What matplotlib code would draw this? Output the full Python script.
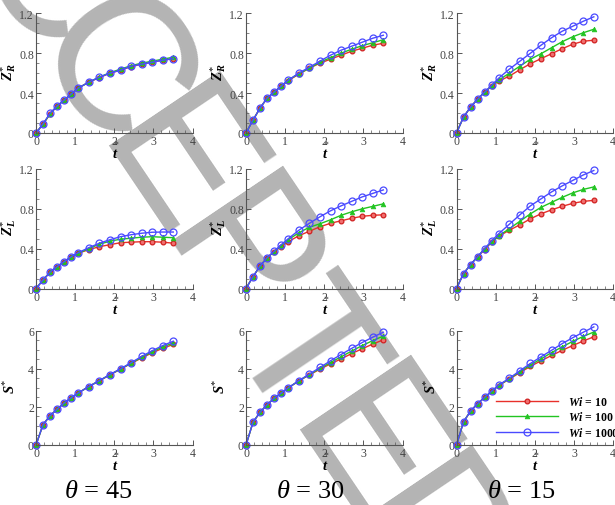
import matplotlib
matplotlib.use("Agg")
import math
import matplotlib.pyplot as plt
from matplotlib.ticker import AutoMinorLocator
from matplotlib.lines import Line2D

plt.rcParams['font.family'] = ['Liberation Serif', 'DejaVu Serif']
plt.rcParams['mathtext.fontset'] = 'custom'
plt.rcParams['mathtext.rm'] = 'Liberation Serif'
plt.rcParams['mathtext.it'] = 'Liberation Serif:italic'
plt.rcParams['mathtext.bf'] = 'Liberation Serif:bold:italic'

# ---------------- data ----------------
t = [0, 0.18, 0.36, 0.54, 0.72, 0.90, 1.08, 1.35, 1.62, 1.89, 2.16, 2.43, 2.70, 2.97, 3.24, 3.51]

series_labels = ['10', '100', '1000']
theta_labels = ['45', '30', '15']

# Z*_R
zr45_wi10   = [0, 0.09, 0.19, 0.27, 0.33, 0.39, 0.45, 0.51, 0.555, 0.60, 0.63, 0.665, 0.69, 0.71, 0.73, 0.745]
zr45_wi100  = [0, 0.09, 0.19, 0.27, 0.33, 0.39, 0.45, 0.51, 0.56, 0.605, 0.64, 0.675, 0.70, 0.72, 0.74, 0.76]
zr45_wi1000 = [0, 0.09, 0.20, 0.27, 0.33, 0.39, 0.45, 0.51, 0.56, 0.60, 0.63, 0.67, 0.69, 0.71, 0.73, 0.745]
zr30_wi10   = [0, 0.13, 0.25, 0.35, 0.41, 0.47, 0.525, 0.59, 0.65, 0.70, 0.74, 0.78, 0.82, 0.85, 0.88, 0.90]
zr30_wi100  = [0, 0.13, 0.25, 0.35, 0.41, 0.47, 0.53, 0.595, 0.65, 0.71, 0.755, 0.80, 0.84, 0.875, 0.905, 0.935]
zr30_wi1000 = [0, 0.13, 0.25, 0.35, 0.41, 0.47, 0.53, 0.60, 0.66, 0.72, 0.78, 0.83, 0.87, 0.91, 0.95, 0.98]
zr15_wi10   = [0, 0.16, 0.26, 0.34, 0.41, 0.47, 0.52, 0.57, 0.635, 0.695, 0.745, 0.795, 0.845, 0.89, 0.92, 0.93]
zr15_wi100  = [0, 0.16, 0.26, 0.34, 0.41, 0.475, 0.53, 0.60, 0.67, 0.74, 0.795, 0.855, 0.915, 0.965, 1.005, 1.04]
zr15_wi1000 = [0, 0.16, 0.26, 0.34, 0.41, 0.48, 0.55, 0.64, 0.72, 0.80, 0.88, 0.955, 1.02, 1.07, 1.12, 1.165]

# Z*_L
zl45_wi10   = [0, 0.085, 0.165, 0.22, 0.27, 0.315, 0.355, 0.39, 0.42, 0.44, 0.46, 0.465, 0.47, 0.47, 0.465, 0.455]
zl45_wi100  = [0, 0.085, 0.165, 0.22, 0.27, 0.32, 0.355, 0.40, 0.445, 0.475, 0.495, 0.505, 0.515, 0.52, 0.515, 0.51]
zl45_wi1000 = [0, 0.085, 0.165, 0.22, 0.27, 0.32, 0.36, 0.41, 0.455, 0.49, 0.52, 0.54, 0.555, 0.565, 0.567, 0.567]
zl30_wi10   = [0, 0.12, 0.225, 0.31, 0.37, 0.42, 0.47, 0.53, 0.575, 0.62, 0.655, 0.68, 0.705, 0.725, 0.735, 0.74]
zl30_wi100  = [0, 0.12, 0.225, 0.31, 0.37, 0.43, 0.49, 0.56, 0.615, 0.65, 0.69, 0.735, 0.77, 0.80, 0.825, 0.85]
zl30_wi1000 = [0, 0.12, 0.225, 0.31, 0.375, 0.44, 0.50, 0.585, 0.655, 0.72, 0.78, 0.83, 0.875, 0.92, 0.955, 0.99]
zl15_wi10   = [0, 0.15, 0.24, 0.32, 0.39, 0.465, 0.525, 0.585, 0.64, 0.70, 0.75, 0.79, 0.825, 0.855, 0.875, 0.885]
zl15_wi100  = [0, 0.15, 0.24, 0.32, 0.40, 0.47, 0.53, 0.60, 0.675, 0.75, 0.815, 0.865, 0.915, 0.96, 0.995, 1.02]
zl15_wi1000 = [0, 0.15, 0.24, 0.32, 0.40, 0.48, 0.55, 0.645, 0.74, 0.83, 0.90, 0.97, 1.03, 1.085, 1.14, 1.185]

# S*
s45_wi10   = [0, 1.07, 1.54, 1.88, 2.2, 2.48, 2.73, 3.07, 3.37, 3.68, 3.98, 4.28, 4.57, 4.84, 5.08, 5.28]
s45_wi100  = [0, 1.07, 1.54, 1.88, 2.2, 2.48, 2.73, 3.07, 3.38, 3.69, 3.99, 4.30, 4.60, 4.89, 5.15, 5.36]
s45_wi1000 = [0, 1.07, 1.54, 1.88, 2.2, 2.48, 2.73, 3.07, 3.38, 3.70, 4.00, 4.32, 4.65, 4.95, 5.22, 5.45]
s30_wi10   = [0, 1.2, 1.72, 2.12, 2.45, 2.72, 3.0, 3.36, 3.68, 3.98, 4.26, 4.52, 4.80, 5.05, 5.30, 5.52]
s30_wi100  = [0, 1.2, 1.72, 2.12, 2.45, 2.72, 3.0, 3.37, 3.70, 4.02, 4.33, 4.63, 4.93, 5.22, 5.48, 5.72]
s30_wi1000 = [0, 1.2, 1.72, 2.12, 2.45, 2.72, 3.0, 3.38, 3.72, 4.07, 4.42, 4.75, 5.07, 5.38, 5.66, 5.92]
s15_wi10   = [0, 1.22, 1.78, 2.17, 2.5, 2.81, 3.12, 3.46, 3.80, 4.13, 4.42, 4.70, 4.97, 5.22, 5.46, 5.68]
s15_wi100  = [0, 1.22, 1.78, 2.17, 2.5, 2.82, 3.13, 3.48, 3.85, 4.20, 4.52, 4.85, 5.15, 5.44, 5.70, 5.93]
s15_wi1000 = [0, 1.22, 1.78, 2.17, 2.5, 2.83, 3.15, 3.50, 3.90, 4.28, 4.63, 4.97, 5.32, 5.63, 5.92, 6.20]

x_ticks = [0, 1, 2, 3, 4]
x_ticklabels = ['0', '1', '2', '3', '4']
z_ticks = [0, 0.4, 0.8, 1.2]
z_ticklabels = ['0', '0.4', '0.8', '1.2']
s_ticks = [0, 2, 4, 6]
s_ticklabels = ['0', '2', '4', '6']

watermark = 'ACCEPTED'

rows = [
    ([zr45_wi10, zr45_wi100, zr45_wi1000], [zr30_wi10, zr30_wi100, zr30_wi1000], [zr15_wi10, zr15_wi100, zr15_wi1000]),
    ([zl45_wi10, zl45_wi100, zl45_wi1000], [zl30_wi10, zl30_wi100, zl30_wi1000], [zl15_wi10, zl15_wi100, zl15_wi1000]),
    ([s45_wi10, s45_wi100, s45_wi1000], [s30_wi10, s30_wi100, s30_wi1000], [s15_wi10, s15_wi100, s15_wi1000]),
]
row_ylabels = [r'$\mathbf{Z}^{*}_{\mathbf{R}}$', r'$\mathbf{Z}^{*}_{\mathbf{L}}$', r'$\mathbf{S}^{*}$']
row_ticks = [(z_ticks, z_ticklabels, 1.2), (z_ticks, z_ticklabels, 1.2), (s_ticks, s_ticklabels, 6)]

# ---------------- style ----------------
colors = ['#e8302a', '#22c422', '#4a4aff']
mstyles = [dict(marker='o', ms=3.4, mfc='#f07070', mec='#d02020', mew=0.9),
           dict(marker='^', ms=3.4, mfc='#22c422', mec='#22c422', mew=0.5),
           dict(marker='o', ms=5.0, mfc='none', mec='#4a4aff', mew=0.9)]

W, H = 615, 506
fig = plt.figure(figsize=(W / 100, H / 100), dpi=100)

# watermark: letters along a diagonal baseline (pixel geometry, y down)
ang = 56.0
ux, uy = math.cos(math.radians(ang)), math.sin(math.radians(ang))
step = 114.0
bx0, by0 = 128.0, 199.0   # baseline centre of the 4th letter
for i, ch in enumerate(watermark):
    k = i - 3
    px, py = bx0 + k * step * ux, by0 + k * step * uy
    fig.text(px / W, 1 - py / H, ch, rotation=-ang, rotation_mode='anchor',
             ha='center', va='baseline', fontsize=140, color='#b4b4b4',
             family='Liberation Sans', zorder=-5)

col_left = [36, 246, 456.5]
ax_w = 156.5
row_geom = [(14.3, 134), (170, 289.5), (331.7, 446)]

axes_grid = []
for r in range(3):
    top, bot = row_geom[r]
    ticks, tlabels, ymax = row_ticks[r]
    for c in range(3):
        ax = fig.add_axes([col_left[c] / W, 1 - bot / H, ax_w / W, (bot - top) / H])
        ax.set_facecolor('none')
        for k in range(3):
            ax.plot(t, rows[r][c][k], color=colors[k], lw=1.0, clip_on=False, **mstyles[k])
        ax.set_xlim(0, 4)
        ax.set_ylim(0, ymax)
        for s in ['top', 'right']:
            ax.spines[s].set_visible(False)
        for s in ['left', 'bottom']:
            ax.spines[s].set_color('#555555')
            ax.spines[s].set_linewidth(0.8)
        ax.set_xticks(x_ticks)
        ax.set_xticklabels(x_ticklabels)
        ax.set_yticks(ticks)
        ax.set_yticklabels(tlabels)
        ax.xaxis.set_minor_locator(AutoMinorLocator(5))
        ax.yaxis.set_minor_locator(AutoMinorLocator(4))
        ax.tick_params(which='both', direction='in', color='#555555', labelsize=8.5,
                       labelcolor='#444444', pad=1.5)
        ax.tick_params(which='major', length=3.5, width=0.7)
        ax.tick_params(which='minor', length=2, width=0.5)
        ax.set_xlabel('t', fontsize=10.5, fontweight='bold', style='italic', labelpad=0)
        ax.text(0.51, -0.085, '*', transform=ax.transAxes, ha='center', va='center',
                fontsize=7, color='#333333')
        ax.set_ylabel(row_ylabels[r], fontsize=10.5)
        ax.yaxis.set_label_coords(-0.112, 0.52)
        axes_grid.append(ax)

# legend in last panel
ax = axes_grid[-1]
handles = [Line2D([0], [0], color=colors[k], lw=1.0, **mstyles[k]) for k in range(3)]
labels = [r'$\mathbf{Wi}$ = ' + s for s in series_labels]
ax.legend(handles, labels, loc='upper left', bbox_to_anchor=(0.255, 0.44),
          frameon=False, handlelength=5.2, handletextpad=0.9, labelspacing=0.22,
          borderpad=0, borderaxespad=0,
          prop={'family': 'Liberation Serif', 'weight': 'bold', 'size': 8.5})

# bottom theta labels
theta_x = [98, 310, 521]
for x, lab in zip(theta_x, theta_labels):
    fig.text(x / W, 1 - 492 / H, r'$\theta$ = ' + lab, ha='center', va='center', fontsize=19)

fig.savefig('out.png', dpi=100)
